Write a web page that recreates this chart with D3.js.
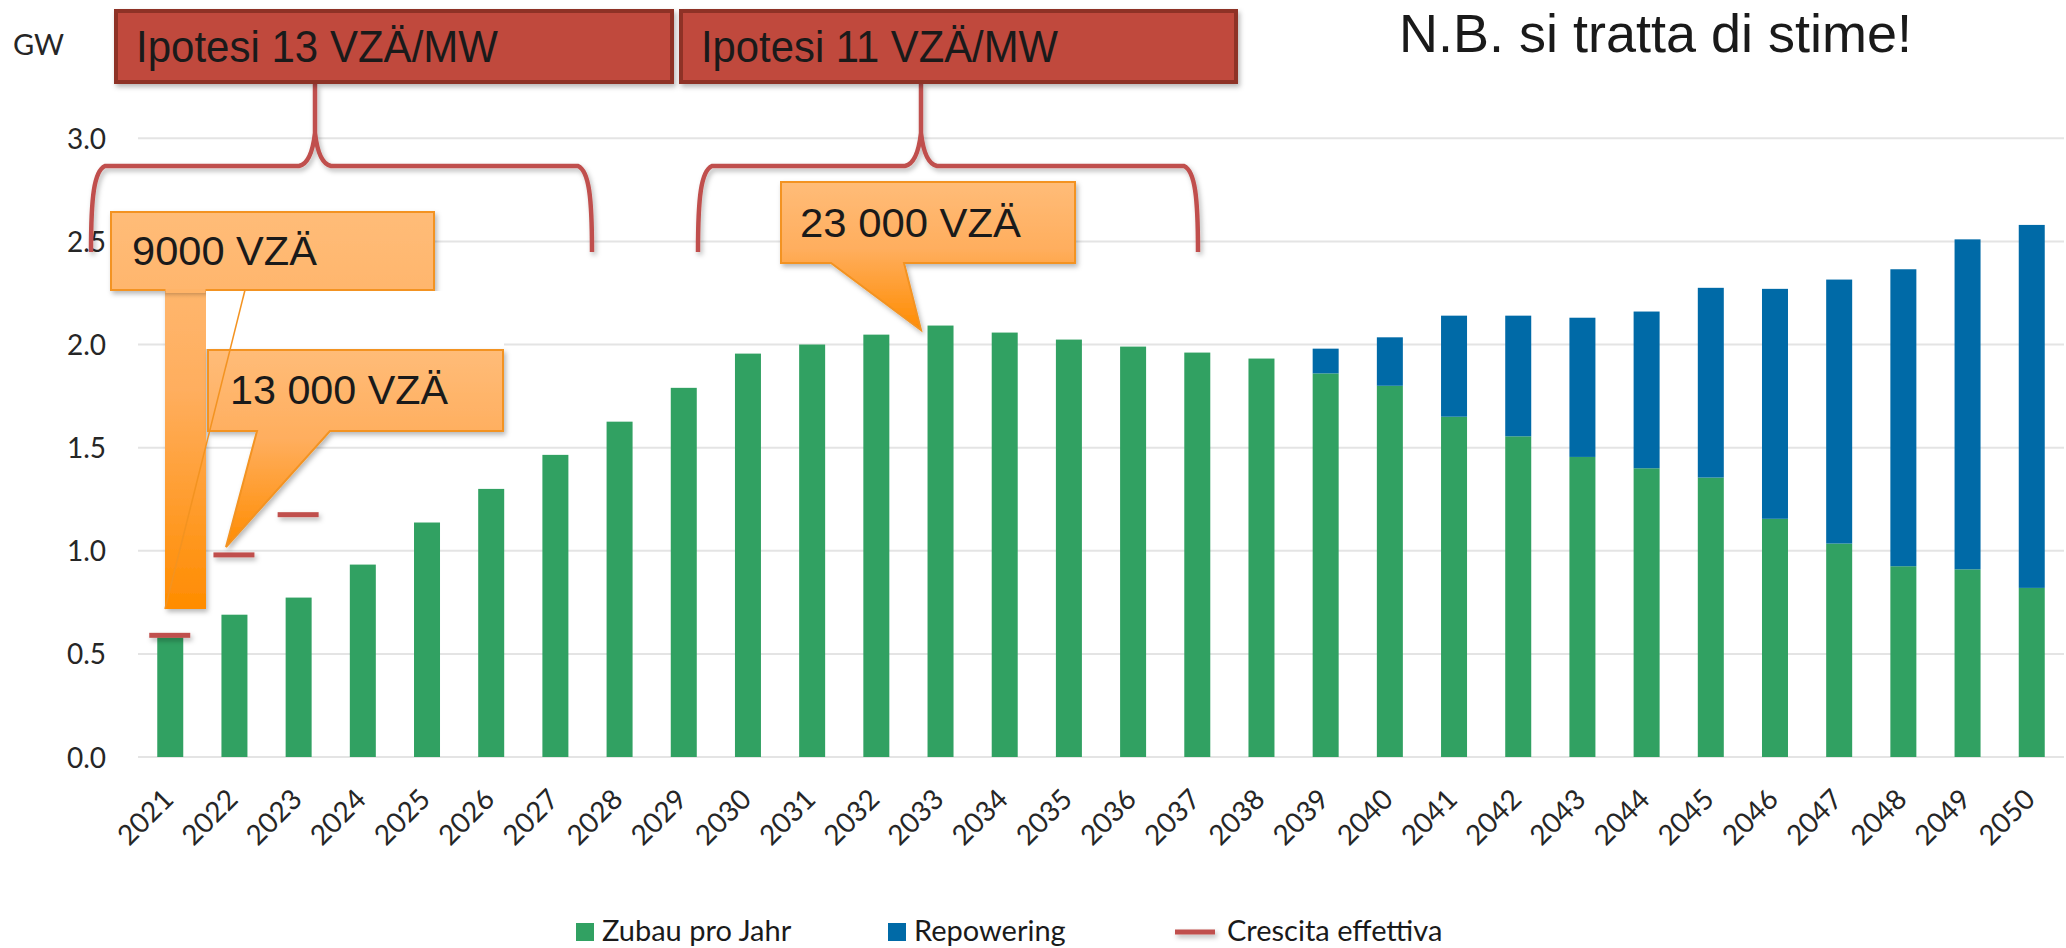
<!DOCTYPE html>
<html>
<head>
<meta charset="utf-8">
<script src="https://cdn.jsdelivr.net/npm/d3@7"></script>
<style>
  html, body { margin: 0; padding: 0; background: #ffffff; }
  svg { display: block; }
</style>
</head>
<body>
<svg id="chart" width="2066" height="948"></svg>
<script>
// ---------------- DATA ----------------
const years = ["2021","2022","2023","2024","2025","2026","2027","2028","2029","2030",
               "2031","2032","2033","2034","2035","2036","2037","2038","2039","2040",
               "2041","2042","2043","2044","2045","2046","2047","2048","2049","2050"];
const zubauProJahr = [0.58, 0.69, 0.773, 0.933, 1.137, 1.30, 1.465, 1.626, 1.79, 1.956,
                      2.0, 2.048, 2.092, 2.058, 2.024, 1.99, 1.961, 1.932, 1.86, 1.80,
                      1.65, 1.555, 1.455, 1.40, 1.355, 1.155, 1.035, 0.925, 0.91, 0.82];
const repowering   = [0, 0, 0, 0, 0, 0, 0, 0, 0, 0,
                      0, 0, 0, 0, 0, 0, 0, 0, 0.12, 0.235,
                      0.49, 0.585, 0.675, 0.76, 0.92, 1.115, 1.28, 1.44, 1.60, 1.76];
const crescitaYears = ["2021","2022","2023"];
const crescitaEffettiva = [0.59, 0.98, 1.175];
const yTicks = [0, 0.5, 1.0, 1.5, 2.0, 2.5, 3.0];
const seriesNames = ["Zubau pro Jahr", "Repowering", "Crescita effettiva"];
const hypothesisLabels = ["Ipotesi 13 VZÄ/MW", "Ipotesi 11 VZÄ/MW"];
const calloutLabels = ["9000 VZÄ", "13 000 VZÄ", "23 000 VZÄ"];
const unitLabel = "GW";
const noteLabel = "N.B. si tratta di stime!";

// ---------------- SETUP ----------------
const GREEN = "#31a162", BLUE = "#006aa7", RED = "#c0504d";
const svg = d3.select("#chart");
svg.append("rect").attr("width", 2066).attr("height", 948).attr("fill", "#fff");

const defs = svg.append("defs");
const shadow = defs.append("filter").attr("id", "shadow")
  .attr("filterUnits", "userSpaceOnUse")
  .attr("x", 0).attr("y", 0).attr("width", 2066).attr("height", 948);
shadow.append("feDropShadow").attr("dx", 2).attr("dy", 3).attr("stdDeviation", 2.5)
  .attr("flood-color", "#000").attr("flood-opacity", 0.28);

function orangeGrad(id, y1, y2) {
  const g = defs.append("linearGradient").attr("id", id)
    .attr("gradientUnits", "userSpaceOnUse")
    .attr("x1", 0).attr("x2", 0).attr("y1", y1).attr("y2", y2);
  g.append("stop").attr("offset", "0%").attr("stop-color", "#ffbc78");
  g.append("stop").attr("offset", "45%").attr("stop-color", "#ffae5e");
  g.append("stop").attr("offset", "100%").attr("stop-color", "#ff8c00");
}

const x = d3.scaleBand().domain(years).range([138, 2064]).paddingInner(0.595).paddingOuter(0.3);
const y = d3.scaleLinear().domain([0, 3]).range([757, 138.3]);

// gridlines
svg.append("g").selectAll("line").data(yTicks).join("line")
  .attr("x1", 138).attr("x2", 2064)
  .attr("y1", d => y(d)).attr("y2", d => y(d))
  .attr("stroke", "#e4e4e4").attr("stroke-width", 2);

// y axis labels
const yAxis = d3.axisLeft(y).tickValues(yTicks).tickFormat(d3.format(".1f")).tickSize(0).tickPadding(0);
const gy = svg.append("g").attr("transform", "translate(106,0)").call(yAxis);
gy.select(".domain").remove();
gy.selectAll("text").attr("font-family", "Lato, 'Open Sans', sans-serif")
  .attr("font-size", 28).attr("fill", "#262626").attr("dy", "0.36em");

// x axis labels
const xAxis = d3.axisBottom(x).tickSize(0).tickPadding(0);
const gx = svg.append("g").attr("transform", "translate(0,757)").call(xAxis);
gx.select(".domain").remove();
gx.selectAll("text")
  .attr("font-family", "Lato, 'Open Sans', sans-serif").attr("font-size", 28)
  .attr("fill", "#262626").attr("text-anchor", "end").attr("dy", 0).attr("y", 0)
  .attr("transform", "translate(5,44) rotate(-45)");

// stacked bars
const stackData = years.map((yr, i) => ({year: yr, zubau: zubauProJahr[i], rep: repowering[i]}));
const stack = d3.stack().keys(["zubau", "rep"])(stackData);
const colors = {zubau: GREEN, rep: BLUE};
svg.append("g").selectAll("g").data(stack).join("g")
  .attr("fill", s => colors[s.key])
  .selectAll("rect").data(s => s.filter(d => d[1] - d[0] > 0)).join("rect")
  .attr("x", d => x(d.data.year))
  .attr("width", x.bandwidth())
  .attr("y", d => y(d[1]))
  .attr("height", d => y(d[0]) - y(d[1]));

// crescita effettiva dashes (drawn as thin rects, centred on the value)
svg.append("g").selectAll("rect").data(crescitaYears).join("rect")
  .attr("x", d => x(d) + x.bandwidth() / 2 - 21)
  .attr("width", 41)
  .attr("y", (d, i) => y(crescitaEffettiva[i]) - 2.5)
  .attr("height", 5)
  .attr("fill", RED).attr("filter", "url(#shadow)");

// ---------------- ANNOTATIONS ----------------
// braces
function brace(xl, xr, xm) {
  const yTop = 166, yBot = 252, yCusp = 133, yStem = 84;
  return `M ${xl},${yBot} C ${xl},${yBot-55} ${xl+3},${yTop+5} ${xl+14},${yTop} L ${xm-16},${yTop} ` +
         `C ${xm-6},${yTop-2} ${xm-2},${yTop-16} ${xm},${yCusp} L ${xm},${yStem} ` +
         `M ${xm},${yCusp} C ${xm+2},${yTop-16} ${xm+6},${yTop-2} ${xm+16},${yTop} L ${xr-14},${yTop} ` +
         `C ${xr-3},${yTop+5} ${xr},${yBot-55} ${xr},${yBot}`;
}
const braceG = svg.append("g").attr("fill", "none").attr("stroke", RED)
  .attr("stroke-width", 4.5).attr("filter", "url(#shadow)");
braceG.append("path").attr("d", brace(91, 592, 315));
braceG.append("path").attr("d", brace(698, 1198, 921));

// hypothesis boxes
const hypBoxes = [{x: 116, w: 556}, {x: 681, w: 555}];
svg.append("g").selectAll("rect").data(hypBoxes).join("rect")
  .attr("x", d => d.x).attr("y", 11).attr("width", d => d.w).attr("height", 71)
  .attr("fill", "#c0493c").attr("stroke", "#8e3128").attr("stroke-width", 4)
  .attr("filter", "url(#shadow)");
svg.append("g").selectAll("text").data(hypothesisLabels).join("text")
  .attr("x", (d, i) => i === 0 ? 136 : 701).attr("y", 62)
  .attr("font-family", "'Liberation Sans', Arial, sans-serif").attr("font-size", 44)
  .attr("textLength", (d, i) => i === 0 ? 362 : 357).attr("lengthAdjust", "spacingAndGlyphs")
  .attr("fill", "#1a1a1a").text(d => d);

// callout 9000
orangeGrad("g9000", 212, 609);
const c1 = svg.append("g");
c1.append("rect").attr("x", 165).attr("y", 289).attr("width", 41).attr("height", 320)
  .attr("fill", "url(#g9000)").attr("filter", "url(#shadow)");
c1.append("rect").attr("x", 111).attr("y", 212).attr("width", 323).attr("height", 78)
  .attr("fill", "url(#g9000)").attr("stroke", "#f39321").attr("stroke-width", 2)
  .attr("filter", "url(#shadow)");
c1.append("rect").attr("x", 165.5).attr("y", 289).attr("width", 40).attr("height", 4).attr("fill", "#ffb468");
// white cover
svg.append("rect").attr("x", 206).attr("y", 291).attr("width", 298).attr("height", 58).attr("fill", "#fff");

// callout 13000
orangeGrad("g13000", 350, 547);
svg.append("path")
  .attr("d", "M 208,350 L 503,350 L 503,431 L 330,431 L 226,547 L 257,431 L 208,431 Z")
  .attr("fill", "url(#g13000)").attr("stroke", "#f39321").attr("stroke-width", 2)
  .attr("stroke-linejoin", "miter").attr("filter", "url(#shadow)");

// thin diagonal outline of the 9000 pointer
svg.append("line").attr("x1", 245).attr("y1", 290).attr("x2", 165).attr("y2", 609)
  .attr("stroke", "#f39321").attr("stroke-width", 1.5);

// callout 23000
orangeGrad("g23000", 182, 330);
svg.append("path")
  .attr("d", "M 781,182 L 1075,182 L 1075,263 L 904,263 L 921,330 L 831,263 L 781,263 Z")
  .attr("fill", "url(#g23000)").attr("stroke", "#f39321").attr("stroke-width", 2)
  .attr("filter", "url(#shadow)");

// callout texts
const calloutPos = [{x: 132, y: 265, w: 185}, {x: 230, y: 404, w: 218}, {x: 800, y: 237, w: 221}];
svg.append("g").selectAll("text").data(calloutLabels).join("text")
  .attr("x", (d, i) => calloutPos[i].x).attr("y", (d, i) => calloutPos[i].y)
  .attr("textLength", (d, i) => calloutPos[i].w).attr("lengthAdjust", "spacingAndGlyphs")
  .attr("font-family", "'Liberation Sans', Arial, sans-serif").attr("font-size", 41)
  .attr("fill", "#1a1a1a").text(d => d);

// unit label
svg.append("text").attr("x", 13).attr("y", 55).attr("font-family", "Lato, 'Open Sans', sans-serif")
  .attr("font-size", 29).attr("fill", "#262626").text(unitLabel);

// note
svg.append("text").attr("x", 1399).attr("y", 52).attr("font-family", "'Liberation Sans', Arial, sans-serif")
  .attr("font-size", 53).attr("textLength", 513).attr("lengthAdjust", "spacingAndGlyphs")
  .attr("fill", "#1a1a1a").text(noteLabel);

// legend
const legendItems = [
  {name: seriesNames[0], type: "rect", color: GREEN, sx: 576, tx: 602},
  {name: seriesNames[1], type: "rect", color: BLUE, sx: 888, tx: 914},
  {name: seriesNames[2], type: "line", color: RED, sx: 1175, tx: 1227}
];
const lg = svg.append("g");
legendItems.forEach(it => {
  if (it.type === "rect") {
    lg.append("rect").attr("x", it.sx).attr("y", 923).attr("width", 18).attr("height", 18).attr("fill", it.color);
  } else {
    lg.append("rect").attr("x", it.sx).attr("width", 40).attr("y", 929.5).attr("height", 5)
      .attr("fill", it.color).attr("filter", "url(#shadow)");
  }
  lg.append("text").attr("x", it.tx).attr("y", 941)
    .attr("font-family", "Lato, 'Open Sans', sans-serif").attr("font-size", 29)
    .attr("fill", "#1a1a1a").text(it.name);
});
</script>
</body>
</html>
